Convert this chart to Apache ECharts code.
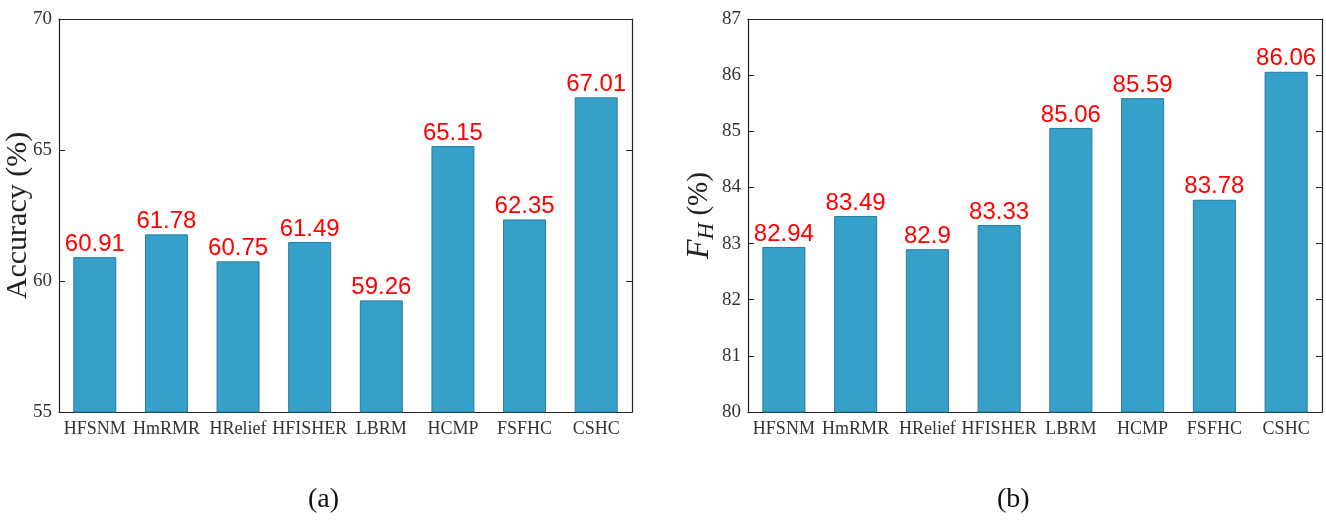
<!DOCTYPE html>
<html>
<head>
<meta charset="utf-8">
<script src="https://cdn.jsdelivr.net/npm/echarts@6/dist/echarts.min.js"></script>
<style>
  html, body { margin: 0; padding: 0; background: #fff; }
  #main { width: 1326px; height: 520px; }
</style>
</head>
<body>
<div id="main"></div>
<script>
// 数据
var methods = ['HFSNM', 'HmRMR', 'HRelief', 'HFISHER', 'LBRM', 'HCMP', 'FSFHC', 'CSHC'];
var accuracy = [60.91, 61.78, 60.75, 61.49, 59.26, 65.15, 62.35, 67.01];
var fh = [82.94, 83.49, 82.9, 83.33, 85.06, 85.59, 83.78, 86.06];

var serif = '"Liberation Serif", "DejaVu Serif", serif';
var sans = '"Liberation Sans", Arial, sans-serif';
var barColor = '#35a1ca';

var myChart = echarts.init(document.getElementById('main'));

function xAxisPair(gridIndex) {
    return [{
        type: 'category', gridIndex: gridIndex, position: 'bottom', data: methods,
        axisLine: { lineStyle: { color: '#222', width: 1.2 } },
        axisTick: { inside: true, alignWithLabel: true, length: 6, lineStyle: { color: '#222' } },
        axisLabel: { color: '#333', fontFamily: serif, fontSize: 18, margin: 8, interval: 0 }
    }, {
        type: 'category', gridIndex: gridIndex, position: 'top', data: methods,
        axisLine: { lineStyle: { color: '#222', width: 1.2 } },
        axisTick: { inside: true, alignWithLabel: true, length: 6, lineStyle: { color: '#222' } },
        axisLabel: { show: false }
    }];
}

function yAxisPair(gridIndex, min, max, name) {
    return [{
        type: 'value', gridIndex: gridIndex, position: 'left', min: min, max: max, interval: gridIndex === 0 ? 5 : 1,
        name: name, nameLocation: 'middle', nameRotate: 90, nameGap: gridIndex === 0 ? 26 : 27,
        nameMoveOverlap: gridIndex !== 0,
        nameTextStyle: { color: '#222', fontFamily: serif, fontSize: 30,
            rich: {
                f: { fontFamily: serif, fontStyle: 'italic', fontSize: 32, color: '#222' },
                h: { fontFamily: serif, fontStyle: 'italic', fontSize: 23, color: '#222', verticalAlign: 'bottom', padding: [14, 0, 0, 0] },
                n: { fontFamily: serif, fontSize: 29, color: '#222' }
            }
        },
        axisLine: { show: true, lineStyle: { color: '#222', width: 1.2 } },
        axisTick: { show: true, inside: true, length: 6, lineStyle: { color: '#222' } },
        axisLabel: { color: '#333', fontFamily: serif, fontSize: 19, margin: 7 },
        splitLine: { show: false }
    }, {
        type: 'value', gridIndex: gridIndex, position: 'right', min: min, max: max, interval: gridIndex === 0 ? 5 : 1,
        axisLine: { show: true, lineStyle: { color: '#222', width: 1.2 } },
        axisTick: { show: true, inside: true, length: 6, lineStyle: { color: '#222' } },
        axisLabel: { show: false },
        splitLine: { show: false }
    }];
}

function barSeries(idx, values) {
    return {
        type: 'bar', xAxisIndex: idx * 2, yAxisIndex: idx * 2, data: values,
        barWidth: '60%',
        itemStyle: { color: barColor, borderColor: '#2a7a99', borderWidth: 1 },
        label: { show: true, position: 'top', distance: 1, color: '#ff0000', fontFamily: sans, fontSize: 24 }
    };
}

var option = {
    animation: false,
    backgroundColor: '#fff',
    grid: [
        { left: 59, top: 19, width: 573, height: 393, outerBoundsMode: 'none' },
        { left: 748, top: 19, width: 574, height: 393, outerBoundsMode: 'none' }
    ],
    xAxis: xAxisPair(0).concat(xAxisPair(1)),
    yAxis: yAxisPair(0, 55, 70, 'Accuracy (%)').concat(yAxisPair(1, 80, 87, '{f|F}{h|H}{n| (%)}')),
    series: [barSeries(0, accuracy), barSeries(1, fh)],
    graphic: [
        { type: 'text', left: 308, top: 486, style: { text: '(a)', font: '28px ' + serif, fill: '#111' } },
        { type: 'text', left: 997, top: 486, style: { text: '(b)', font: '28px ' + serif, fill: '#111' } }
    ]
};

myChart.setOption(option);
</script>
</body>
</html>
